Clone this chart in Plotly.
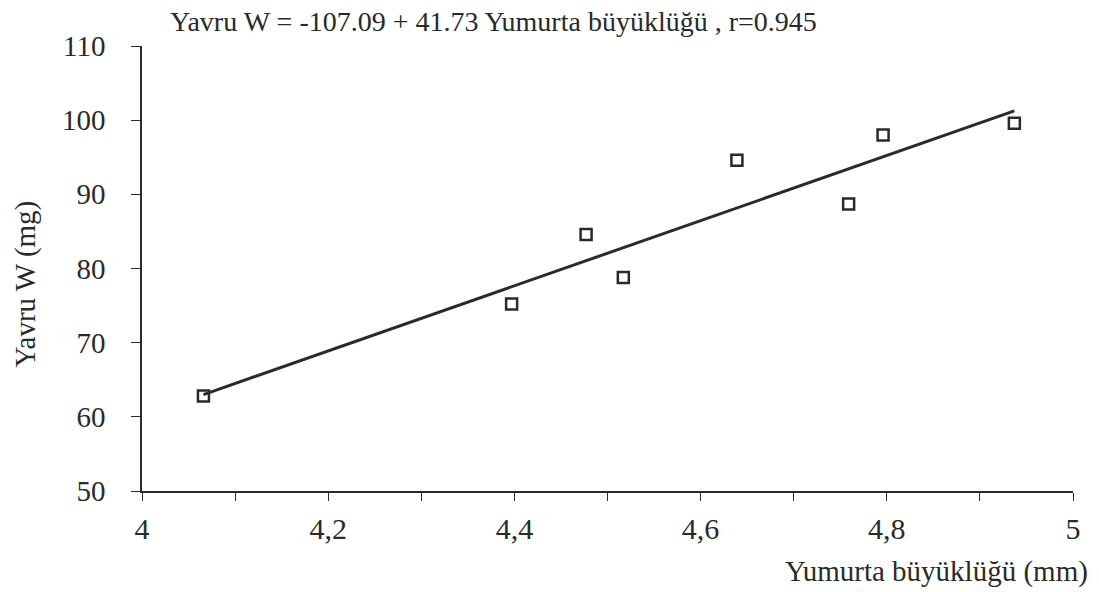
import numpy as np
import plotly.graph_objects as go

egg_size = [4.066, 4.397, 4.477, 4.517, 4.639, 4.759, 4.796, 4.937]
pup_weight = [62.8, 75.2, 84.6, 78.8, 94.6, 88.7, 98.0, 99.6]
x_tick_vals = [4, 4.2, 4.4, 4.6, 4.8, 5]
x_tick_text = ["4", "4,2", "4,4", "4,6", "4,8", "5"]
y_tick_vals = [50, 60, 70, 80, 90, 100, 110]

slope, intercept = np.polyfit(egg_size, pup_weight, 1)
line_x = [min(egg_size), max(egg_size)]
line_y = [intercept + slope * v for v in line_x]

FONT = "Liberation Serif"
INK = "#2a2a2a"

fig = go.Figure()
fig.add_trace(go.Scatter(x=line_x, y=line_y, mode="lines",
                         line=dict(color=INK, width=3), showlegend=False))
fig.add_trace(go.Scatter(x=egg_size, y=pup_weight, mode="markers",
                         marker=dict(symbol="square-open", size=11, color=INK,
                                     line=dict(width=2.5, color=INK)),
                         showlegend=False))

fig.update_layout(
    width=1099, height=592,
    margin=dict(l=142, r=26, t=46, b=101),
    paper_bgcolor="white", plot_bgcolor="white",
    font=dict(family=FONT, color=INK),
    xaxis=dict(range=[4, 5], showline=True, linecolor=INK, linewidth=1.5,
               tickmode="array", tickvals=x_tick_vals, ticktext=x_tick_text,
               ticks="outside", ticklen=8, tickwidth=1.2, tickcolor=INK,
               minor=dict(dtick=0.1, ticks="outside", ticklen=8, tickwidth=1.2, tickcolor=INK),
               showgrid=False, zeroline=False, ticklabelstandoff=2,
               tickfont=dict(size=30, family=FONT, color=INK)),
    yaxis=dict(range=[50, 110], showline=True, linecolor=INK, linewidth=1.5,
               tickmode="array", tickvals=y_tick_vals,
               ticks="outside", ticklen=9, tickwidth=1.2, tickcolor=INK,
               showgrid=False, zeroline=False, ticklabelstandoff=20,
               tickfont=dict(size=29, family=FONT, color=INK)),
    annotations=[
        dict(text="Yavru W = -107.09 + 41.73 Yumurta büyüklüğü , r=0.945",
             xref="paper", yref="paper", x=(168-142)/931, y=(491-22)/445,
             xanchor="left", yanchor="middle", showarrow=False,
             font=dict(size=28, family=FONT, color=INK)),
        dict(text="Yavru W (mg)", xref="paper", yref="paper",
             x=(6-142)/931, y=(491-284)/445, xanchor="left", yanchor="middle",
             textangle=-90, showarrow=False,
             font=dict(size=29, family=FONT, color=INK)),
        dict(text="Yumurta büyüklüğü (mm)", xref="paper", yref="paper",
             x=(1090-142)/931, y=-(571-491)/445, xanchor="right", yanchor="middle",
             showarrow=False, font=dict(size=29, family=FONT, color=INK)),
    ],
)

fig.write_html("out.html")
